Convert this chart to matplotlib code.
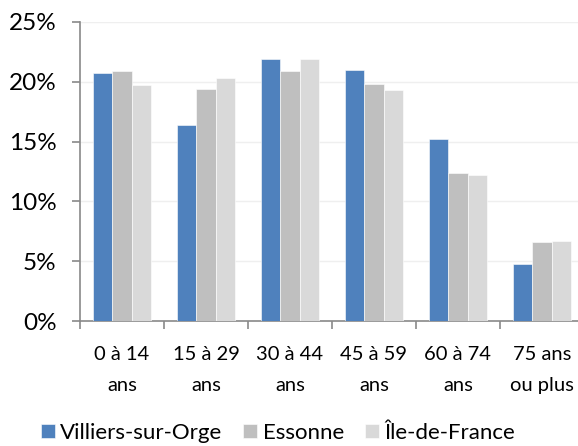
import numpy as np
import matplotlib
matplotlib.use("Agg")
import matplotlib.pyplot as plt
from matplotlib.ticker import FuncFormatter

# === Data ===
categories = ["0 à 14\nans", "15 à 29\nans", "30 à 44\nans", "45 à 59\nans", "60 à 74\nans", "75 ans\nou plus"]
villiers = [20.7, 16.4, 21.9, 21.0, 15.2, 4.8]
essonne = [20.9, 19.4, 20.9, 19.8, 12.4, 6.6]
idf = [19.7, 20.3, 21.9, 19.3, 12.2, 6.7]
series_names = ["Villiers-sur-Orge", "Essonne", "Île-de-France"]
colors = ["#4F81BD", "#BFBFBF", "#D9D9D9"]

plt.rcParams['font.family'] = ['Lato', 'DejaVu Sans']

fig = plt.figure(figsize=(5.78, 4.46), dpi=100)
ax = fig.add_axes([80 / 578, 1 - 321 / 446, 504 / 578, 299 / 446])

x = np.arange(len(categories))
w = 0.232
for i, (vals, name, c) in enumerate(zip([villiers, essonne, idf], series_names, colors)):
    ax.bar(x + (i - 1) * w, vals, width=w, color=c, label=name,
           edgecolor="white", linewidth=0.4, zorder=3)

# === Axes styling ===
ax.set_xlim(-0.5, len(categories) - 0.5)
ax.set_ylim(0, 25)
ax.set_yticks(np.arange(0, 26, 5))
ax.yaxis.set_major_formatter(FuncFormatter(lambda v, p: f"{v:.0f}%"))
ax.grid(axis="y", color="#EFEFEF", linewidth=1, zorder=0)

ax.set_xticks(x)
ax.set_xticklabels(categories, fontsize=14.5, linespacing=2.0)
ax.set_xticks(np.arange(-0.5, len(categories)), minor=True)
ax.tick_params(axis="x", which="major", length=0, pad=18)
ax.tick_params(axis="x", which="minor", length=6, width=1.2, color="#898989", direction="out")
ax.tick_params(axis="y", length=6, width=1.2, color="#898989", labelsize=17.5, pad=11)

for s in ["top", "right"]:
    ax.spines[s].set_visible(False)
for s in ["left", "bottom"]:
    ax.spines[s].set_color("#898989")
    ax.spines[s].set_linewidth(1.2)

# === Legend ===
fig.legend(loc="center", bbox_to_anchor=(278 / 578, 1 - 433 / 446), ncol=3,
           frameon=False, fontsize=16, handlelength=0.62, handleheight=0.62,
           handletextpad=0.25, columnspacing=0.95, borderaxespad=0)

fig.savefig("out.png", dpi=100)
